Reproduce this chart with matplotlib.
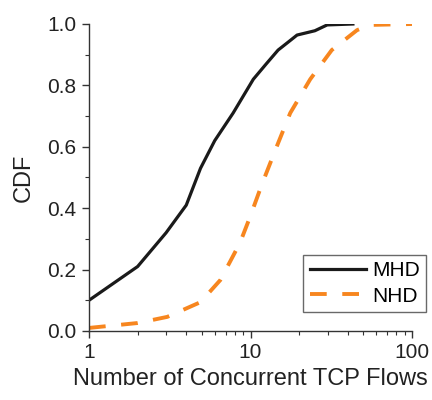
import matplotlib
matplotlib.use("Agg")
import matplotlib.pyplot as plt
from matplotlib.ticker import MultipleLocator, LogLocator, NullFormatter, FixedLocator, FormatStrFormatter

plt.rcParams['font.family'] = ['Liberation Sans', 'DejaVu Sans']

mhd_x = [1, 2, 3, 4, 4.9, 6.0, 7.8, 10.4, 12.5, 14.8, 17, 19.4, 25, 29.8, 43]
mhd_y = [0.10, 0.21, 0.32, 0.41, 0.53, 0.62, 0.71, 0.82, 0.87, 0.915, 0.94, 0.964, 0.978, 0.997, 1.0]

nhd_x = [1, 2, 3.05, 4.9, 6.5, 8.6, 9.9, 11.8, 14.5, 17.6, 23.4, 31.8, 45.6, 55, 100]
nhd_y = [0.01, 0.026, 0.046, 0.094, 0.166, 0.287, 0.37, 0.48, 0.6, 0.71, 0.82, 0.915, 0.98, 0.997, 1.0]

fig = plt.figure(figsize=(4.32, 4.0), dpi=100)
ax = fig.add_axes([0.206, 0.1725, 0.748, 0.7675])

ax.plot(mhd_x, mhd_y, color='#1a1a1a', lw=2.3, label='MHD')
ax.plot(nhd_x, nhd_y, color='#f7861f', lw=2.8, dashes=(4.3, 4.0), label='NHD')

ax.set_xscale('log')
ax.set_xlim(1, 100)
ax.set_ylim(0, 1.0)
ax.xaxis.set_major_locator(FixedLocator([1, 10, 100]))
ax.set_xticklabels(['1', '10', '100'])
ax.xaxis.set_minor_locator(LogLocator(base=10, subs=range(2, 10)))
ax.xaxis.set_minor_formatter(NullFormatter())
ax.yaxis.set_major_locator(MultipleLocator(0.2))
ax.yaxis.set_minor_locator(MultipleLocator(0.1))
ax.yaxis.set_major_formatter(FormatStrFormatter('%.1f'))

for s in ['top', 'right']:
    ax.spines[s].set_visible(False)
for s in ['left', 'bottom']:
    ax.spines[s].set_color('#333333')
    ax.spines[s].set_linewidth(1.0)

ax.tick_params(which='major', direction='out', length=5, width=1.0, color='#333333',
               labelsize=15, labelcolor='#222222', pad=4)
ax.tick_params(which='minor', direction='out', length=3, width=0.8, color='#333333')

ax.set_xlabel('Number of Concurrent TCP Flows', fontsize=17, color='#222222', labelpad=4)
ax.set_ylabel('CDF', fontsize=17, color='#222222', labelpad=9)

leg = ax.legend(loc='lower right', bbox_to_anchor=(1.043, 0.062), fontsize=15,
                frameon=True, fancybox=False, handlelength=2.7, borderpad=0.3,
                labelspacing=0.3, handletextpad=0.3, borderaxespad=0)
leg.get_frame().set_edgecolor('#444444')
leg.get_frame().set_linewidth(1.0)

fig.savefig('out.png', dpi=100)
